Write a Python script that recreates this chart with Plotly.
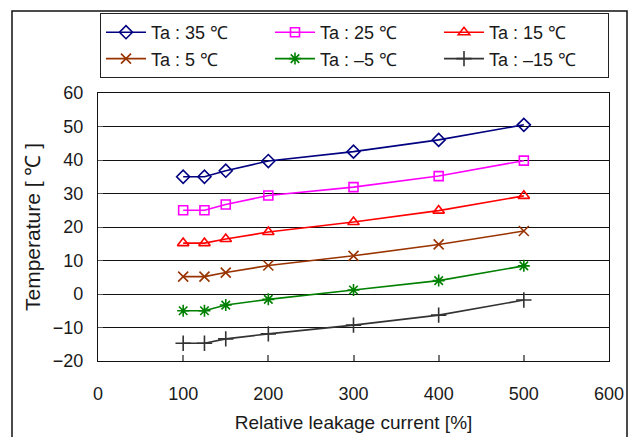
import plotly.graph_objects as go

x_vals = [100, 125, 150, 200, 300, 400, 500]
series_names = ["Ta : 35 ℃", "Ta : 25 ℃", "Ta : 15 ℃", "Ta : 5 ℃", "Ta : –5 ℃", "Ta : –15 ℃"]
t35 = [35.0, 35.0, 36.8, 39.7, 42.5, 46.0, 50.5]
t25 = [25.0, 25.0, 26.7, 29.4, 31.9, 35.2, 39.8]
t15 = [15.2, 15.2, 16.4, 18.5, 21.5, 24.9, 29.3]
t5 = [5.2, 5.2, 6.4, 8.5, 11.4, 14.8, 18.8]
tm5 = [-5.0, -5.0, -3.3, -1.6, 1.2, 4.0, 8.4]
tm15 = [-14.7, -14.7, -13.4, -11.9, -9.3, -6.3, -1.8]
series = [t35, t25, t15, t5, tm5, tm15]
colors = ["#000080", "#FF00FF", "#FF0000", "#993300", "#008000", "#333333"]
symbols = ["diamond-open", "square-open", "triangle-up-open", "x-thin-open", "asterisk-open", "cross-thin-open"]
sizes = [10, 9, 10, 10, 10, 11]
x_ticks = [0, 100, 200, 300, 400, 500, 600]
y_ticks = [-20, -10, 0, 10, 20, 30, 40, 50, 60]

FONT = "Liberation Sans"

fig = go.Figure()
for name, ys, c, s, sz in zip(series_names, series, colors, symbols, sizes):
    fig.add_trace(go.Scatter(
        x=x_vals, y=ys, name=name, mode="lines+markers",
        line=dict(color=c, width=1.6),
        marker=dict(symbol=s, size=sz, color=c, line=dict(color=c, width=1.6)),
    ))

L, R, T, B = 98, 23, 93, 76
W, H = 632, 437
pw, ph = W - L - R, H - T - B

def px_x(p):
    return (p - L) / pw

def px_y(p):
    return (H - B - p) / ph

fig.update_layout(
    width=W, height=H,
    margin=dict(l=L, r=R, t=T, b=B, autoexpand=False),
    paper_bgcolor="white", plot_bgcolor="white",
    font=dict(family=FONT, size=16, color="#1a1a1a"),
    showlegend=True,
    legend=dict(
        orientation="h", x=px_x(100), y=px_y(13), xanchor="left", yanchor="top",
        bordercolor="#222222", borderwidth=1, bgcolor="white",
        font=dict(family=FONT, size=18, color="#1a1a1a"),
        entrywidth=114, entrywidthmode="pixels",
        itemwidth=40, tracegroupgap=0,
    ),
    xaxis=dict(
        range=[0, 600], tickvals=x_ticks, showgrid=False, zeroline=False,
        showline=True, linecolor="#111111", linewidth=1.2, mirror=True,
        ticks="inside", ticklen=6, tickcolor="#777777", tickwidth=1.5,
        ticklabelstandoff=16, automargin=False,
        title=dict(text="Relative leakage current [%]", standoff=12,
                   font=dict(family=FONT, size=19)),
        tickfont=dict(family=FONT, size=18),
    ),
    yaxis=dict(
        range=[-20, 60], tickvals=y_ticks, showgrid=True, gridcolor="#111111", gridwidth=1,
        zeroline=False,
        showline=True, linecolor="#111111", linewidth=1.2, mirror=True,
        ticks="inside", ticklen=5, tickcolor="#555555",
        ticklabelstandoff=10, automargin=False,
        title=dict(text="Temperature [ ℃ ]", standoff=6,
                   font=dict(family=FONT, size=21)),
        tickfont=dict(family=FONT, size=18),
    ),
    shapes=[dict(
        type="rect", xref="paper", yref="paper",
        x0=px_x(12), x1=px_x(627), y0=px_y(445), y1=px_y(11),
        line=dict(color="#111111", width=1.5), fillcolor="rgba(0,0,0,0)", layer="below",
    )],
)

fig.write_html("out.html")
